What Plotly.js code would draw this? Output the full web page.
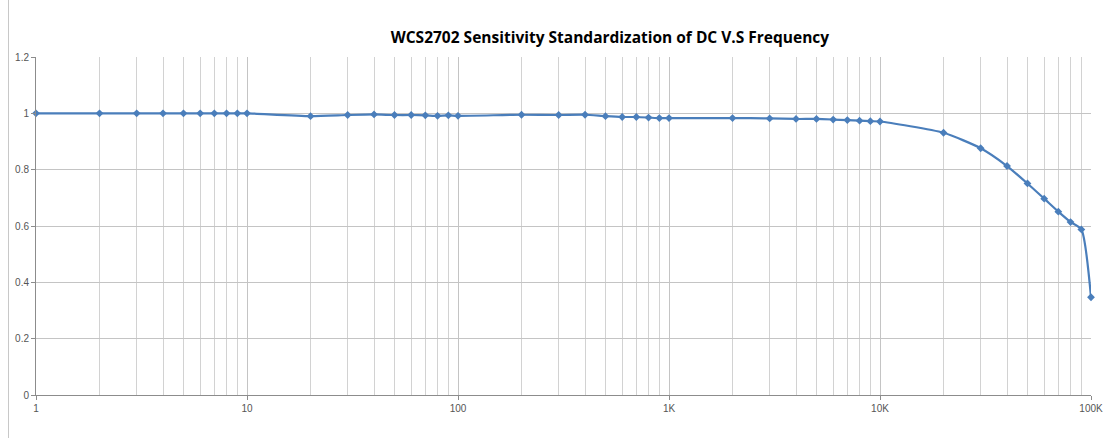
<!DOCTYPE html>
<html><head><meta charset="utf-8">
<script src="https://cdn.plot.ly/plotly-3.0.1.min.js"></script>
<style>body{margin:0;background:#fff}#wrap{position:relative;width:1105px;height:438px}#chart{width:1105px;height:438px}#edge{position:absolute;left:8px;top:0;width:1px;height:438px;background:#c8c8c8}</style>
</head><body><div id="wrap"><div id="chart"></div><div id="edge"></div></div>
<script>
const freq = [1,2,3,4,5,6,7,8,9,10,20,30,40,50,60,70,80,90,100,200,300,400,500,600,700,800,900,1000,2000,3000,4000,5000,6000,7000,8000,9000,10000,20000,30000,40000,50000,60000,70000,80000,90000,100000];
const sensitivity = [1,1,1,1,1,1,1,1,1,1,0.990,0.994,0.996,0.994,0.994,0.993,0.991,0.993,0.991,0.995,0.994,0.995,0.990,0.987,0.987,0.985,0.983,0.983,0.983,0.982,0.980,0.980,0.978,0.976,0.974,0.972,0.971,0.931,0.876,0.813,0.751,0.697,0.651,0.614,0.588,0.347];
const majorTicks = [1,10,100,1000,10000,100000];
const majorLabels = ['1','10','100','1K','10K','100K'];
const minorTicks = [];
[1,10,100,1000,10000].forEach(d=>{for(let k=2;k<=9;k++)minorTicks.push(k*d);});
const titleText = 'WCS2702 Sensitivity Standardization of DC V.S Frequency';

Plotly.newPlot('chart',[{
  x:freq, y:sensitivity, type:'scatter', mode:'lines+markers', cliponaxis:false,
  line:{color:'#4A7EBB', width:2.2, shape:'spline', smoothing:0.6},
  marker:{symbol:'diamond', size:6, color:'#4A7EBB'},
  hoverinfo:'x+y'
}],{
  width:1105, height:438,
  margin:{l:36, r:14, t:57, b:43},
  paper_bgcolor:'#fff', plot_bgcolor:'#fff',
  showlegend:false,
  title:{text:'<b>'+titleText+'</b>', font:{family:'Open Sans', size:15.5, color:'#000'}, x:0.552, xanchor:'center', y:0.915, yanchor:'middle'},
  xaxis:{type:'log', range:[0,5], tickmode:'array', tickvals:majorTicks, ticktext:majorLabels,
    showgrid:true, gridcolor:'#c4c4c4', gridwidth:1, showline:true, linecolor:'#8c8c8c', linewidth:1,
    ticks:'outside', ticklen:4, tickcolor:'#8c8c8c', zeroline:false,
    tickfont:{family:'Liberation Sans', size:10, color:'#555'},
    minor:{tickmode:'array', tickvals:minorTicks, showgrid:true, gridcolor:'#d2d2d2', gridwidth:1, ticks:''}},
  yaxis:{range:[0,1.2], dtick:0.2, showgrid:true, gridcolor:'#c4c4c4', gridwidth:1,
    showline:true, linecolor:'#8c8c8c', linewidth:1, ticks:'outside', ticklen:4, tickcolor:'#8c8c8c', zeroline:false,
    tickfont:{family:'Liberation Sans', size:10, color:'#555'}}
},{displayModeBar:false, staticPlot:true});
</script></body></html>
